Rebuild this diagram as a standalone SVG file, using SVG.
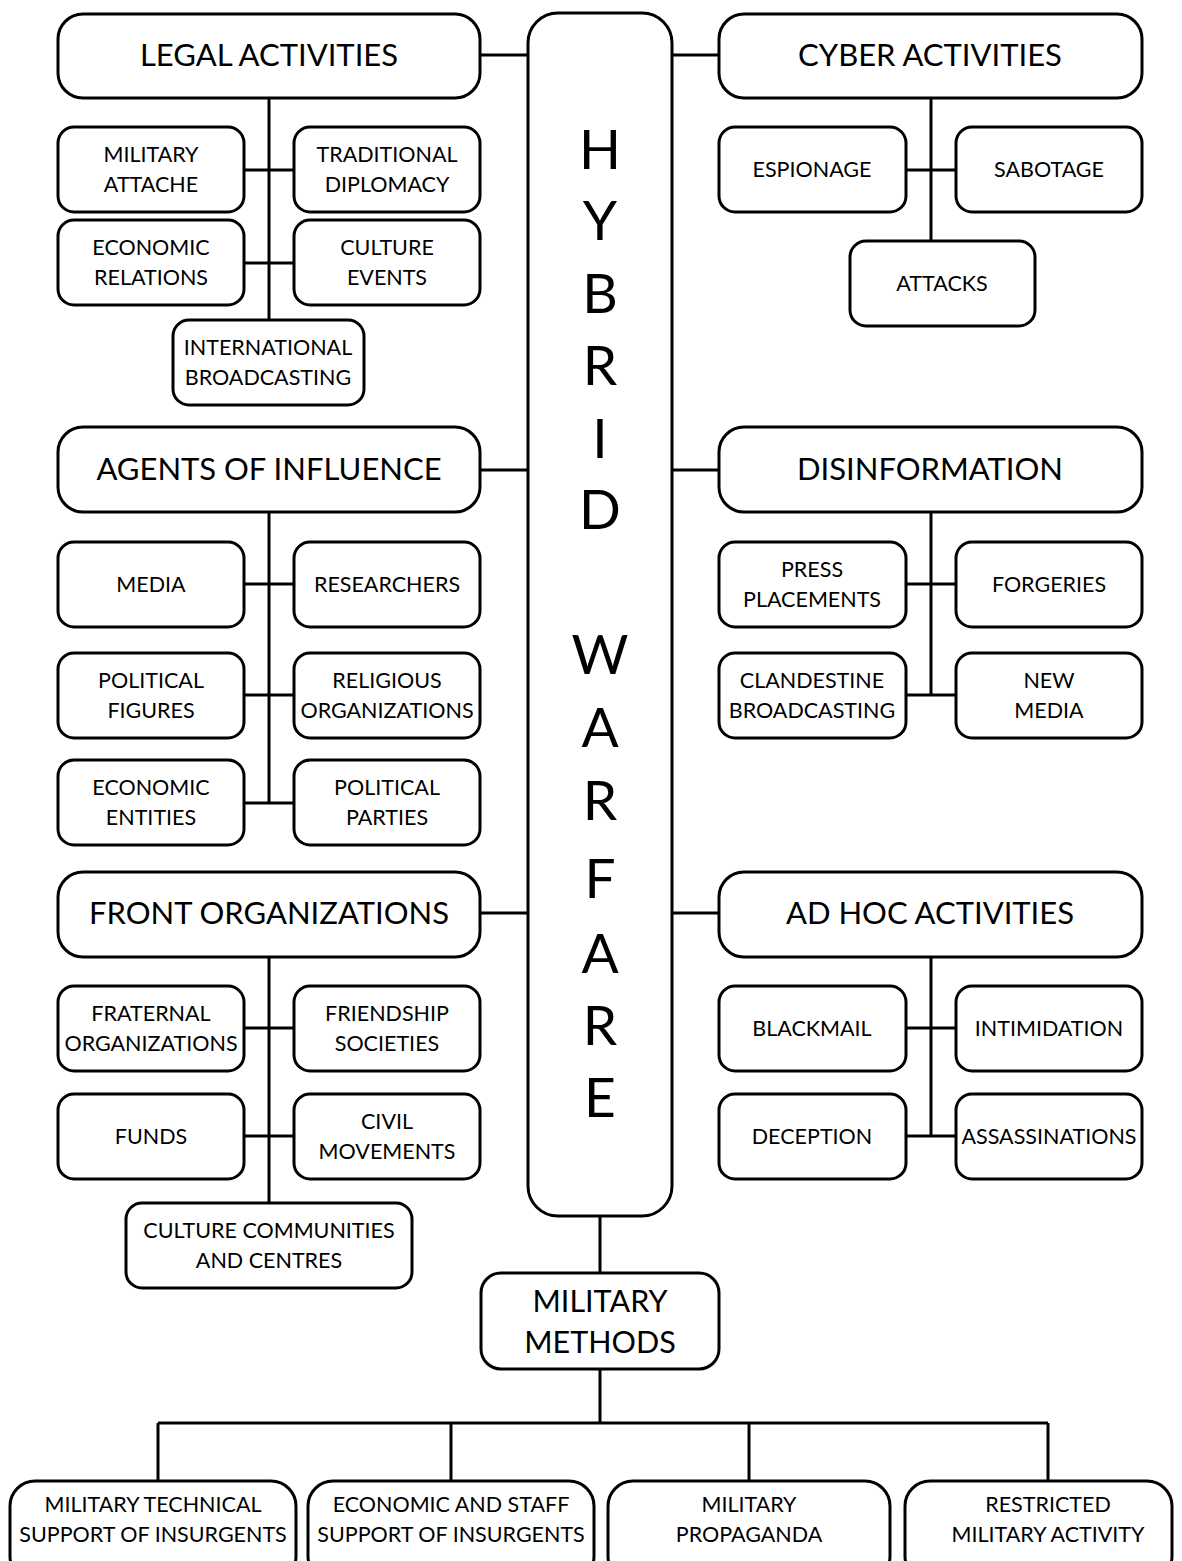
<svg xmlns="http://www.w3.org/2000/svg" width="1182" height="1561" viewBox="0 0 1182 1561">
<style>
.box{fill:#fff;stroke:#000;stroke-width:3}
.ln{stroke:#000;stroke-width:3;fill:none}
text{font-family:Lato,"Liberation Sans",sans-serif;fill:#000;text-anchor:middle}
.h{font-size:31px}
.s{font-size:21.5px}
.m{font-size:30.5px}
.big{font-size:55px}
</style>
<rect width="1182" height="1561" fill="#fff"/>
<g id="connectors">
<path class="ln" d="M480 55H528M672 55H719M480 470H528M672 470H719M480 913H528M672 913H719"/>
<path class="ln" d="M269 98V320M244 170H294M244 263H294"/>
<path class="ln" d="M269 512V803M244 584H294M244 695H294M244 803H294"/>
<path class="ln" d="M269 957V1203M244 1028H294M244 1136H294"/>
<path class="ln" d="M931 98V241M906 170H956"/>
<path class="ln" d="M931 512V695M906 584H956M906 695H956"/>
<path class="ln" d="M931 957V1136M906 1028H956M906 1136H956"/>
<path class="ln" d="M600 1216V1273M600 1369V1423M158 1423H1048M158 1423V1481M451 1423V1481M749 1423V1481M1048 1423V1481"/>
</g>
<g id="hybrid">
<rect class="box" x="528" y="13" width="144" height="1203" rx="30"/>
<text class="big" x="600" y="169">H</text>
<text class="big" x="600" y="240">Y</text>
<text class="big" x="600" y="313">B</text>
<text class="big" x="600" y="385">R</text>
<text class="big" x="600" y="458">I</text>
<text class="big" x="600" y="529">D</text>
<text class="big" x="600" y="674">W</text>
<text class="big" x="600" y="747">A</text>
<text class="big" x="600" y="820">R</text>
<text class="big" x="600" y="898">F</text>
<text class="big" x="600" y="973">A</text>
<text class="big" x="600" y="1045">R</text>
<text class="big" x="600" y="1117">E</text>
</g>
<g id="legal"><rect class="box" x="58" y="14" width="422" height="84" rx="25"/><text class="h" x="269" y="66">LEGAL ACTIVITIES</text></g>
<g id="mil-attache"><rect class="box" x="58" y="127" width="186" height="85" rx="16"/><text class="s" x="151" y="162">MILITARY</text><text class="s" x="151" y="192">ATTACHE</text></g>
<g id="trad-diplomacy"><rect class="box" x="294" y="127" width="186" height="85" rx="16"/><text class="s" x="387" y="162">TRADITIONAL</text><text class="s" x="387" y="192">DIPLOMACY</text></g>
<g id="econ-relations"><rect class="box" x="58" y="220" width="186" height="85" rx="16"/><text class="s" x="151" y="255">ECONOMIC</text><text class="s" x="151" y="285">RELATIONS</text></g>
<g id="culture-events"><rect class="box" x="294" y="220" width="186" height="85" rx="16"/><text class="s" x="387" y="255">CULTURE</text><text class="s" x="387" y="285">EVENTS</text></g>
<g id="intl-broadcasting"><rect class="box" x="173" y="320" width="191" height="85" rx="16"/><text class="s" x="268" y="355">INTERNATIONAL</text><text class="s" x="268" y="385">BROADCASTING</text></g>

<g id="cyber"><rect class="box" x="719" y="14" width="423" height="84" rx="25"/><text class="h" x="930" y="66">CYBER ACTIVITIES</text></g>
<g id="espionage"><rect class="box" x="719" y="127" width="187" height="85" rx="16"/><text class="s" x="812" y="177">ESPIONAGE</text></g>
<g id="sabotage"><rect class="box" x="956" y="127" width="186" height="85" rx="16"/><text class="s" x="1049" y="177">SABOTAGE</text></g>
<g id="attacks"><rect class="box" x="850" y="241" width="185" height="85" rx="16"/><text class="s" x="942" y="291">ATTACKS</text></g>

<g id="agents"><rect class="box" x="58" y="427" width="422" height="85" rx="25"/><text class="h" x="269" y="480">AGENTS OF INFLUENCE</text></g>
<g id="media"><rect class="box" x="58" y="542" width="186" height="85" rx="16"/><text class="s" x="151" y="592">MEDIA</text></g>
<g id="researchers"><rect class="box" x="294" y="542" width="186" height="85" rx="16"/><text class="s" x="387" y="592">RESEARCHERS</text></g>
<g id="pol-figures"><rect class="box" x="58" y="653" width="186" height="85" rx="16"/><text class="s" x="151" y="688">POLITICAL</text><text class="s" x="151" y="718">FIGURES</text></g>
<g id="religious"><rect class="box" x="294" y="653" width="186" height="85" rx="16"/><text class="s" x="387" y="688">RELIGIOUS</text><text class="s" x="387" y="718">ORGANIZATIONS</text></g>
<g id="econ-entities"><rect class="box" x="58" y="760" width="186" height="85" rx="16"/><text class="s" x="151" y="795">ECONOMIC</text><text class="s" x="151" y="825">ENTITIES</text></g>
<g id="pol-parties"><rect class="box" x="294" y="760" width="186" height="85" rx="16"/><text class="s" x="387" y="795">POLITICAL</text><text class="s" x="387" y="825">PARTIES</text></g>

<g id="disinformation"><rect class="box" x="719" y="427" width="423" height="85" rx="25"/><text class="h" x="930" y="480">DISINFORMATION</text></g>
<g id="press"><rect class="box" x="719" y="542" width="187" height="85" rx="16"/><text class="s" x="812" y="577">PRESS</text><text class="s" x="812" y="607">PLACEMENTS</text></g>
<g id="forgeries"><rect class="box" x="956" y="542" width="186" height="85" rx="16"/><text class="s" x="1049" y="592">FORGERIES</text></g>
<g id="clandestine"><rect class="box" x="719" y="653" width="187" height="85" rx="16"/><text class="s" x="812" y="688">CLANDESTINE</text><text class="s" x="812" y="718">BROADCASTING</text></g>
<g id="new-media"><rect class="box" x="956" y="653" width="186" height="85" rx="16"/><text class="s" x="1049" y="688">NEW</text><text class="s" x="1049" y="718">MEDIA</text></g>

<g id="front"><rect class="box" x="58" y="872" width="422" height="85" rx="25"/><text class="h" x="269" y="924">FRONT ORGANIZATIONS</text></g>
<g id="fraternal"><rect class="box" x="58" y="986" width="186" height="85" rx="16"/><text class="s" x="151" y="1021">FRATERNAL</text><text class="s" x="151" y="1051">ORGANIZATIONS</text></g>
<g id="friendship"><rect class="box" x="294" y="986" width="186" height="85" rx="16"/><text class="s" x="387" y="1021">FRIENDSHIP</text><text class="s" x="387" y="1051">SOCIETIES</text></g>
<g id="funds"><rect class="box" x="58" y="1094" width="186" height="85" rx="16"/><text class="s" x="151" y="1144">FUNDS</text></g>
<g id="civil"><rect class="box" x="294" y="1094" width="186" height="85" rx="16"/><text class="s" x="387" y="1129">CIVIL</text><text class="s" x="387" y="1159">MOVEMENTS</text></g>
<g id="culture-communities"><rect class="box" x="126" y="1203" width="286" height="85" rx="16"/><text class="s" x="269" y="1238">CULTURE COMMUNITIES</text><text class="s" x="269" y="1268">AND CENTRES</text></g>

<g id="adhoc"><rect class="box" x="719" y="872" width="423" height="85" rx="25"/><text class="h" x="930" y="924">AD HOC ACTIVITIES</text></g>
<g id="blackmail"><rect class="box" x="719" y="986" width="187" height="85" rx="16"/><text class="s" x="812" y="1036">BLACKMAIL</text></g>
<g id="intimidation"><rect class="box" x="956" y="986" width="186" height="85" rx="16"/><text class="s" x="1049" y="1036">INTIMIDATION</text></g>
<g id="deception"><rect class="box" x="719" y="1094" width="187" height="85" rx="16"/><text class="s" x="812" y="1144">DECEPTION</text></g>
<g id="assassinations"><rect class="box" x="956" y="1094" width="186" height="85" rx="16"/><text class="s" x="1049" y="1144">ASSASSINATIONS</text></g>

<g id="military-methods"><rect class="box" x="481" y="1273" width="238" height="96" rx="20"/><text class="m" x="600" y="1312">MILITARY</text><text class="m" x="600" y="1353">METHODS</text></g>
<g id="mil-technical"><rect class="box" x="10" y="1481" width="286" height="100" rx="25"/><text class="s" x="153" y="1512">MILITARY TECHNICAL</text><text class="s" x="153" y="1542">SUPPORT OF INSURGENTS</text></g>
<g id="econ-staff"><rect class="box" x="308" y="1481" width="286" height="100" rx="25"/><text class="s" x="451" y="1512">ECONOMIC AND STAFF</text><text class="s" x="451" y="1542">SUPPORT OF INSURGENTS</text></g>
<g id="mil-propaganda"><rect class="box" x="608" y="1481" width="282" height="100" rx="25"/><text class="s" x="749" y="1512">MILITARY</text><text class="s" x="749" y="1542">PROPAGANDA</text></g>
<g id="restricted"><rect class="box" x="905" y="1481" width="267" height="100" rx="25"/><text class="s" x="1048" y="1512">RESTRICTED</text><text class="s" x="1048" y="1542">MILITARY ACTIVITY</text></g>
</svg>
